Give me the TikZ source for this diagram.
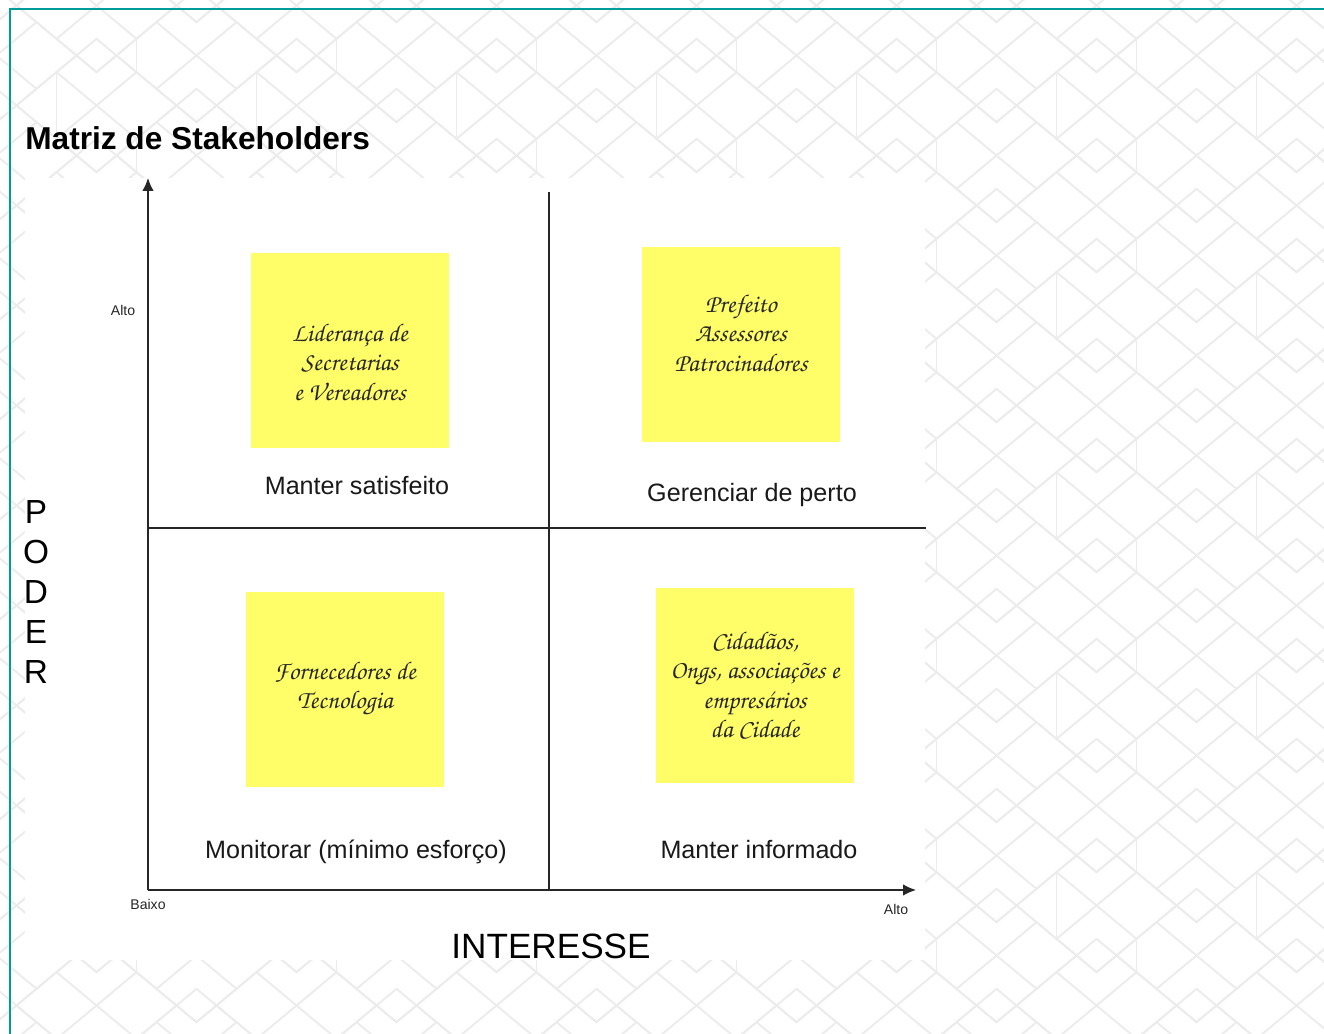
\documentclass[tikz,border=0pt]{standalone}
\usepackage[T1,TU]{fontenc}
\usepackage{fontspec}
\setmainfont{Liberation Sans}
\usepackage{xcolor}
\usepackage{tikz}
\usetikzlibrary{arrows.meta, positioning}

\definecolor{frameteal}{RGB}{0,155,155}
\definecolor{postit}{RGB}{255,253,104}
\definecolor{tile}{RGB}{236,236,236}

\newcommand{\handfont}{\fontencoding{T1}\fontfamily{pzc}\fontseries{m}\fontshape{it}\fontsize{14.5}{16.7}\selectfont}

\tikzstyle{postit} = [rectangle, minimum width=3.96cm, minimum height=3.9cm, inner sep=0pt, fill=postit]
\tikzstyle{hand} = [align=center, font=\handfont, text=black!85]
\tikzstyle{quad} = [font=\fontsize{14.3}{16}\selectfont, text=black!90]
\tikzstyle{tick} = [font=\fontsize{8}{9}\selectfont, text=black!85]
\tikzstyle{axis} = [line width=0.8pt, black!85, -{Latex[length=2.6mm,width=2.3mm]}]
\tikzstyle{split} = [line width=0.8pt, black!85]

\begin{document}
\begin{tikzpicture}
\useasboundingbox (0,0) rectangle (26.48,20.68);

% faint tiled background: rhombi with a cross and small diamonds
\begin{scope}
\clip (0,0) rectangle (26.48,20.68);
\foreach \j in {0,...,23} {
  \pgfmathtruncatemacro{\ev}{mod(\j,2)}
  \pgfmathtruncatemacro{\fo}{mod(\j,4)}
  \foreach \i in {-1,...,7} {
    \pgfmathsetmacro{\px}{-0.07+4*\i+2*(1-\ev)}
    \pgfmathsetmacro{\py}{-1.43+\j}
    \begin{scope}[shift={(\px,\py)}, tile, line width=1.1pt]
      \draw (-0.8,-0.667) -- (0.8,0.667);
      \draw (-0.8,0.667) -- (0.8,-0.667);
      \draw (0,1.333) -- (1.6,0) -- (0,-1.333) -- (-1.6,0) -- cycle;
      \draw (-0.4,1) -- (0,0.667) -- (0.4,1);
      \ifnum\ev=0 \draw (0.8,0.667) -- (0.8,1.333); \fi
      \ifnum\fo=0 \draw (-0.8,-0.667) -- (-0.8,0.667); \fi
    \end{scope}
  }
}
\end{scope}

% frame and white chart area
\draw[frameteal, line width=1.4pt] (0.2,-1) -- (0.2,20.5) -- (27.5,20.5);
\fill[white] (0.5,1.48) rectangle (18.5,17.12);

\node (title) [anchor=base west, inner sep=0pt, font=\bfseries\fontsize{18}{20}\selectfont] at (0.5,17.68) {Matriz de Stakeholders};

% axes and quadrant lines
\coordinate (o) at (2.96,2.88);
\coordinate (ytop) at (2.96,17.12);
\coordinate (xend) at (18.32,2.88);
\coordinate (vtop) at (10.98,16.84);
\coordinate (vbot) at (10.98,2.88);
\coordinate (hl) at (2.96,10.12);
\coordinate (hr) at (18.52,10.12);

\draw [axis] (o) -- (ytop);
\draw [axis] (o) -- (xend);
\draw [split] (vtop) -- (vbot);
\draw [split] (hl) -- (hr);

\node (yhigh) [tick] at (2.46,14.48) {Alto};
\node (xlow) [tick] at (2.96,2.6) {Baixo};
\node (xhigh) [tick] at (17.92,2.5) {Alto};

\node (interesse) [font=\fontsize{20}{22}\selectfont] at (11.02,1.76) {INTERESSE};
\node (poder) [align=center, font=\fontsize{19}{22.7}\selectfont] at (0.72,8.84) {P\\O\\D\\E\\R};

% sticky notes
\node (n1) [postit] at (7.0,13.66) {};
\node (n2) [postit] at (14.82,13.78) {};
\node (n3) [postit] at (6.9,6.88) {};
\node (n4) [postit] at (15.1,6.96) {};

\node (t1) [hand] at ([yshift=-0.22cm]n1.center) {Lideran\c{c}a de\\Secretarias\\e Vereadores};
\node (t2) [hand] at ([yshift=0.24cm]n2.center) {Prefeito\\Assessores\\Patrocinadores};
\node (t3) [hand] at ([yshift=0.02cm]n3.center) {Fornecedores de\\Tecnologia};
\node (t4) [hand] at ([yshift=0.03cm]n4.center) {Cidad\~aos,\\Ongs, associa\c{c}\~oes e\\empres\'arios\\da Cidade};

% quadrant names
\node (q1) [quad, below of=n1, node distance=2.7cm, xshift=0.14cm] {Manter satisfeito};
\node (q2) [quad, below of=n2, node distance=3.0cm, xshift=0.22cm] {Gerenciar de perto};
\node (q3) [quad, below of=n3, node distance=3.24cm, xshift=0.22cm] {Monitorar (mínimo esforço)};
\node (q4) [quad, below of=n4, node distance=3.28cm, xshift=0.08cm] {Manter informado};

\end{tikzpicture}
\end{document}
